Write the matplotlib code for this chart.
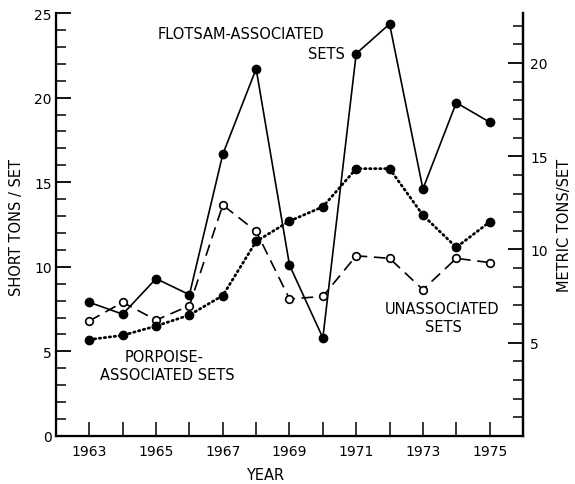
import matplotlib
matplotlib.use("Agg")
import matplotlib.pyplot as plt
from matplotlib.ticker import MultipleLocator, FixedLocator

plt.rcParams['font.family'] = ['DejaVu Sans']

years = [1963, 1964, 1965, 1966, 1967, 1968, 1969, 1970, 1971, 1972, 1973, 1974, 1975]
flotsam = [7.9, 7.2, 9.3, 8.35, 16.65, 21.7, 10.1, 5.8, 22.6, 24.35, 14.6, 19.7, 18.55]
unassociated = [6.8, 7.9, 6.85, 7.7, 13.65, 12.1, 8.1, 8.25, 10.65, 10.5, 8.65, 10.5, 10.25]
porpoise = [5.7, 5.95, 6.5, 7.15, 8.3, 11.5, 12.7, 13.55, 15.8, 15.8, 13.05, 11.15, 12.65]
year_labels = ['1963', '', '1965', '', '1967', '', '1969', '', '1971', '', '1973', '', '1975']
SHORT_TO_METRIC = 0.90718

W, H = 575, 485
fig = plt.figure(figsize=(W / 100, H / 100), dpi=100)
ax = fig.add_axes([56 / W, 1 - 437 / H, (523 - 56) / W, (437 - 14) / H])

ax.plot(years, flotsam, '-', color='black', lw=1.2,
        marker='o', ms=6, mfc='black', mec='black')
ax.plot(years, unassociated, color='black', lw=1.2, dashes=(7, 4),
        marker='o', ms=5.5, mfc='white', mec='black', mew=1.2)
ax.plot(years, porpoise, color='black', lw=2.0, dashes=(0.5, 1.3),
        dash_capstyle='round', marker='o', ms=6, mfc='black', mec='black')

ax.set_xlim(1962, 1976)
ax.set_ylim(0, 25)
ax.xaxis.set_major_locator(FixedLocator(years))
ax.set_xticklabels(year_labels)
ax.yaxis.set_major_locator(MultipleLocator(5))
ax.yaxis.set_minor_locator(MultipleLocator(1))

for s in ['left', 'bottom', 'right']:
    ax.spines[s].set_linewidth(1.6)
ax.spines['top'].set_visible(False)

ax.tick_params(axis='y', which='major', direction='in', length=11, width=1.3,
               labelsize=10, pad=3)
ax.tick_params(axis='y', which='minor', direction='in', length=7, width=1.1)
ax.tick_params(axis='x', which='major', direction='in', length=10, width=1.1,
               labelsize=10, pad=6)

ax2 = ax.twinx()
ax2.set_ylim(0, 25 * SHORT_TO_METRIC)
ax2.yaxis.set_major_locator(MultipleLocator(5))
ax2.yaxis.set_minor_locator(MultipleLocator(1))
ax2.set_yticks([5, 10, 15, 20])
ax2.tick_params(axis='y', which='major', direction='in', length=11, width=1.3,
                labelsize=10, pad=5)
ax2.tick_params(axis='y', which='minor', direction='in', length=7, width=1.1)
ax2.spines['top'].set_visible(False)
ax2.spines['right'].set_linewidth(1.6)

fs = 10.5
ax.text(1967.53, 23.76, 'FLOTSAM-ASSOCIATED', ha='center', va='center', fontsize=fs)
ax.text(1970.65, 22.59, 'SETS', ha='right', va='center', fontsize=fs)
ax.text(1964.06, 4.71, 'PORPOISE-', ha='left', va='center', fontsize=fs)
ax.text(1963.32, 3.65, 'ASSOCIATED SETS', ha='left', va='center', fontsize=fs)
ax.text(1973.56, 7.53, 'UNASSOCIATED', ha='center', va='center', fontsize=fs)
ax.text(1973.6, 6.47, 'SETS', ha='center', va='center', fontsize=fs)

fig.text(265 / W, 1 - 476 / H, 'YEAR', ha='center', va='center', fontsize=fs)
fig.text(17 / W, 1 - 228 / H, 'SHORT TONS / SET', rotation=90,
         ha='center', va='center', fontsize=fs)
fig.text(565 / W, 1 - 225 / H, 'METRIC TONS/SET', rotation=90,
         ha='center', va='center', fontsize=fs)

fig.savefig('out.png', dpi=100)
